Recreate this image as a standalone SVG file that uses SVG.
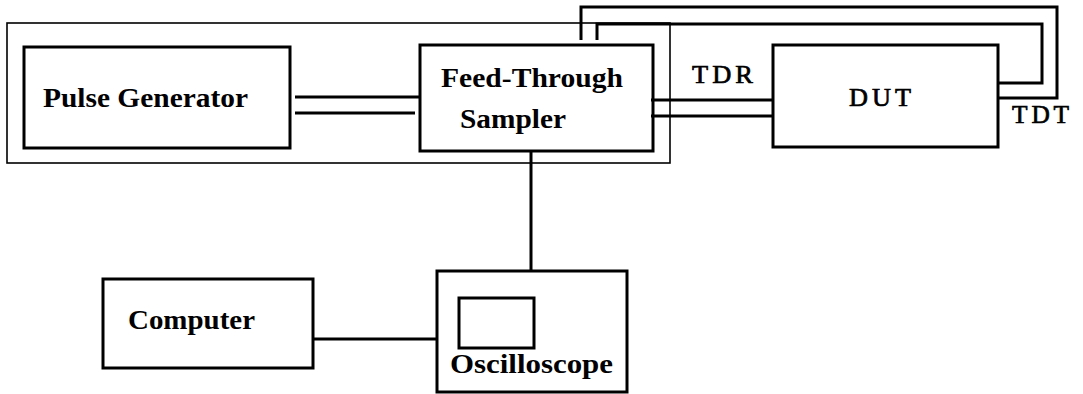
<svg xmlns="http://www.w3.org/2000/svg" width="1083" height="394" viewBox="0 0 1083 394">
<style>
.box{fill:none;stroke:#000;stroke-width:3}
.thin{fill:none;stroke:#000;stroke-width:1.6}
.w{fill:none;stroke:#000;stroke-width:3}
.t{font-family:"Liberation Serif","DejaVu Serif",serif;font-weight:bold;fill:#000;font-size:28px}
.s{font-family:"Liberation Serif","DejaVu Serif",serif;fill:#000;stroke:#000;stroke-width:0.7;font-size:26px;letter-spacing:4px}
</style>
<rect width="1083" height="394" fill="#fff"/>
<rect id="enclosure" class="thin" x="7" y="23" width="663" height="140"/>
<g id="pulse-generator">
<rect class="box" x="24" y="47" width="266" height="101"/>
<text class="t" x="43" y="107" textLength="205" lengthAdjust="spacingAndGlyphs">Pulse Generator</text>
</g>
<g id="sampler">
<rect class="box" x="420" y="45" width="233" height="106"/>
<text class="t" x="441" y="87" textLength="182" lengthAdjust="spacingAndGlyphs">Feed-Through</text>
<text class="t" x="460" y="128" textLength="106" lengthAdjust="spacingAndGlyphs">Sampler</text>
</g>
<g id="dut">
<rect class="box" x="773" y="45" width="225" height="102"/>
<text class="s" x="849" y="106" textLength="66" lengthAdjust="spacingAndGlyphs">DUT</text>
</g>
<g id="computer">
<rect class="box" x="103" y="279" width="210" height="89"/>
<text class="t" x="128" y="329" textLength="127" lengthAdjust="spacingAndGlyphs">Computer</text>
</g>
<g id="oscilloscope">
<rect class="box" x="437" y="271" width="190" height="121"/>
<rect class="box" x="459" y="298" width="75" height="50"/>
<text class="t" x="450" y="373" textLength="163" lengthAdjust="spacingAndGlyphs">Oscilloscope</text>
</g>
<g id="labels">
<text class="s" x="692" y="83" textLength="65" lengthAdjust="spacingAndGlyphs">TDR</text>
<text class="s" x="1012" y="123" textLength="61" lengthAdjust="spacingAndGlyphs">TDT</text>
</g>
<g id="connectors">
<line class="w" x1="295" y1="97" x2="420" y2="97"/>
<line class="w" x1="295" y1="113" x2="415" y2="113"/>
<line class="w" x1="651" y1="100" x2="773" y2="100"/>
<line class="w" x1="651" y1="116" x2="773" y2="116"/>
<polyline class="w" points="581,40 581,7 1057,7 1057,98 998,98"/>
<polyline class="w" points="597,40 597,24 1042,24 1042,83 998,83"/>
<line class="w" x1="531" y1="151" x2="531" y2="271"/>
<line class="w" x1="313" y1="339" x2="437" y2="339"/>
</g>
</svg>
